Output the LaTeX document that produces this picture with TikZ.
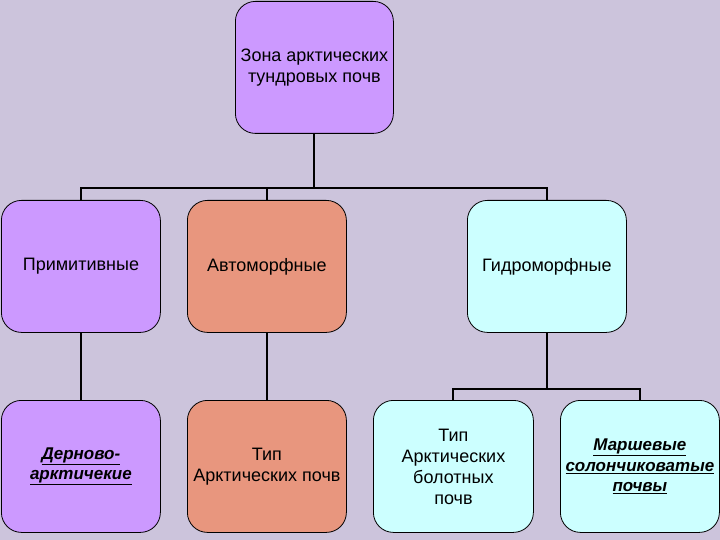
\documentclass[tikz,border=0pt]{standalone}
\usepackage{fontspec}
\setmainfont{Liberation Sans}
\definecolor{bgc}{RGB}{204,196,220}
\definecolor{violetc}{RGB}{204,153,255}
\definecolor{salmonc}{RGB}{232,150,126}
\definecolor{cyanc}{RGB}{204,255,255}
\newcommand{\ulb}[1]{\underline{#1}}
\begin{document}
\begin{tikzpicture}[x=1pt,y=-1pt,
  box/.style={draw=black, line width=0.8pt, rounded corners=20pt, anchor=north west,
    minimum width=159pt, minimum height=132pt, inner sep=0pt, align=center,
    font=\fontsize{18}{21}\selectfont},
  ulbox/.style={font=\fontsize{17}{20.5}\selectfont\bfseries\itshape},
  conn/.style={draw=black, line width=2pt}]
\fill[bgc] (0,0) rectangle (720,540);
\useasboundingbox (0,0) rectangle (720,540);
\node[box, fill=violetc, minimum width=158pt] (top) at (235,1) {Зона арктических\\тундровых почв};
\node[box, fill=violetc] (b1) at (1,200) {Примитивные};
\node[box, fill=salmonc] (b2) at (187,200) {Автоморфные};
\node[box, fill=cyanc] (b3) at (467,200) {Гидроморфные};
\node[box, ulbox, fill=violetc] (b4) at (1,400) {\ulb{Дерново-}\\\ulb{арктичекие}};
\node[box, fill=salmonc] (b5) at (187,400) {Тип\\Арктических почв};
\node[box, fill=cyanc, minimum width=160pt] (b6) at (373,400) {Тип\\Арктических\\болотных\\почв};
\node[box, ulbox, fill=cyanc] (b7) at (560,400) {\ulb{Маршевые}\\\ulb{солончиковатые}\\\ulb{почвы}};
\coordinate (bus) at (0,188);
\coordinate (bus2) at (0,389);
\draw[conn] (top.south) -- (top.south |- bus);
\draw[conn] (b1.north) -- (b1.north |- bus) -| (b3.north);
\draw[conn] (b2.north) -- (b2.north |- bus);
\draw[conn] (b1.south) -- (b4.north);
\draw[conn] (b2.south) -- (b5.north);
\draw[conn] (b3.south) -- (b3.south |- bus2);
\draw[conn] (b6.north) -- (b6.north |- bus2) -| (b7.north);
\end{tikzpicture}
\end{document}
